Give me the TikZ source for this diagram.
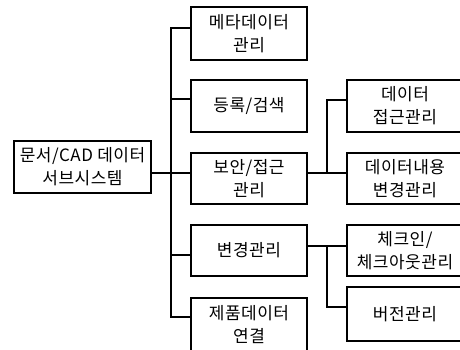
\documentclass[tikz,border=0pt]{standalone}
\usepackage{fontspec}
\newfontfamily\kr[LetterSpace=3]{Noto Sans CJK KR}
\begin{document}
\begin{tikzpicture}[x=1pt,y=-1pt,
  box/.style={draw=black,line width=1.3pt,fill=white,minimum width=116pt,inner sep=0pt,align=center,
    font=\kr\fontsize{17}{23}\selectfont},
  conn/.style={draw=black,line width=1.3pt}]
\useasboundingbox (0,0) rectangle (460,349);
\fill[white] (0,0) rectangle (460,349);
\clip (0,0) rectangle (460,349);
% root
\node[box,minimum width=137pt,minimum height=52pt] (root) at (82.5,167) {문서/CAD 데이터\\서브시스템};
% column 2
\node[box,minimum height=53pt] (b1) at (249,33.5) {메타데이터\\관리};
\node[box,minimum height=52pt] (b2) at (249,106) {등록/검색};
\node[box,minimum height=51pt] (b3) at (249,178.5) {보안/접근\\관리};
\node[box,minimum height=51pt] (b4) at (249,250.5) {변경관리};
\node[box,minimum height=53pt] (b5) at (249,324.5) {제품데이터\\연결};
% column 3
\node[box,minimum height=52pt] (c1) at (405,106) {데이터\\접근관리};
\node[box,minimum height=51pt] (c2) at (405,178.5) {데이터내용\\변경관리};
\node[box,minimum height=51pt] (c3) at (405,250.5) {체크인/\\체크아웃관리};
\node[box,minimum height=54pt] (c4) at (405,314) {버전관리};
% trunk coordinates
\coordinate (t1) at (171,28);
\coordinate (t2) at (171,99);
\coordinate (t3) at (171,173);
\coordinate (t4) at (171,255);
\coordinate (t5) at (171,317);
\coordinate (s1) at (327,100);
\coordinate (s2) at (327,173);
\coordinate (s3) at (327,246);
\coordinate (s4) at (327,307);
% main connectors
\draw[conn] (root.east |- t3) -- (b3.west |- t3);
\draw[conn] (b1.west |- t1) -- (t1) -- (t5) -- (b5.west |- t5);
\draw[conn] (t2) -- (b2.west |- t2);
\draw[conn] (t4) -- (b4.west |- t4);
% sub connectors for b3
\draw[conn] (b3.east |- s2) -- (c2.west |- s2);
\draw[conn] (s2) -- (s1) -- (c1.west |- s1);
% sub connectors for b4
\draw[conn] (b4.east |- s3) -- (c3.west |- s3);
\draw[conn] (s3) -- (s4) -- (c4.west |- s4);
\end{tikzpicture}
\end{document}
